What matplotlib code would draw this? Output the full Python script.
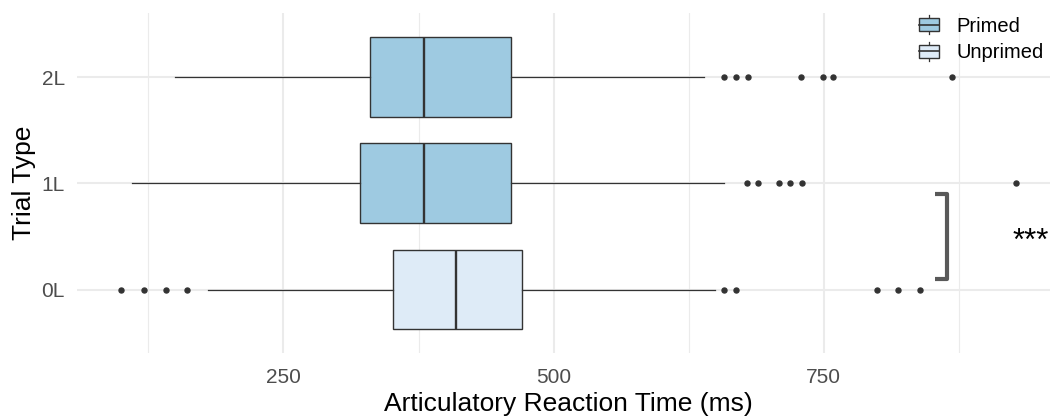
import matplotlib
matplotlib.use("Agg")
import matplotlib.pyplot as plt
from matplotlib.patches import Rectangle
from matplotlib.lines import Line2D
from matplotlib.legend_handler import HandlerBase

plt.rcParams['font.family'] = ['Liberation Sans', 'DejaVu Sans']

# Trial types (bottom to top) and their priming condition
trial_types = ["0L", "1L", "2L"]
conditions = ["Unprimed", "Primed", "Primed"]

# Box summary statistics, articulatory RT in ms
q1 = [351, 321, 330]
medians = [410, 380, 380]
q3 = [471, 461, 461]
whisker_lo = [180, 110, 150]
whisker_hi = [649, 658, 639]
outliers = [
    [100, 121, 141, 161, 658, 669, 799, 819, 839],
    [679, 689, 709, 719, 730, 928],
    [658, 669, 680, 729, 749, 759, 869],
]

# Significance bracket between 1L and 0L
bracket_x = [853, 864]
bracket_y = [1.1, 1.9]
sig_label = "***"
sig_x = 942

palette = {"Primed": "#9ECAE1", "Unprimed": "#DEEBF7"}
edge = "#333333"
grid_col = "#EBEBEB"

fig = plt.figure(figsize=(10.5, 4.19), dpi=100)
ax = fig.add_axes([76.7 / 1050, 1 - 353.3 / 419, 984 / 1050, 340 / 419])

positions = list(range(1, len(trial_types) + 1))
stats = []
for i in range(len(trial_types)):
    stats.append(dict(med=medians[i], q1=q1[i], q3=q3[i],
                      whislo=whisker_lo[i], whishi=whisker_hi[i],
                      fliers=outliers[i]))

bp = ax.bxp(stats, positions=positions, widths=0.75, orientation='horizontal',
            patch_artist=True, showcaps=False,
            boxprops=dict(edgecolor=edge, linewidth=1.0),
            medianprops=dict(color=edge, linewidth=1.7, solid_capstyle='butt'),
            whiskerprops=dict(color=edge, linewidth=0.9),
            flierprops=dict(marker='o', markersize=3.6, markerfacecolor=edge,
                            markeredgecolor=edge, linestyle='none'),
            zorder=3)
for patch, cond in zip(bp['boxes'], conditions):
    patch.set_facecolor(palette[cond])

# Axis limits: data range with 5% padding, discrete axis padded by 0.6
all_vals = whisker_lo + whisker_hi + [v for grp in outliers for v in grp]
lo, hi = min(all_vals), max(all_vals)
pad = 0.05 * (hi - lo)
ax.set_xlim(lo - pad, hi + pad)
ax.set_ylim(0.4, len(trial_types) + 0.6)

ax.set_xticks([250, 500, 750])
ax.set_xticks([125, 375, 625, 875], minor=True)
ax.set_yticks(positions)
ax.set_yticklabels(trial_types)
ax.grid(True, which='major', color=grid_col, linewidth=1.5, zorder=0)
ax.grid(True, which='minor', axis='x', color=grid_col, linewidth=0.8, zorder=0)
ax.set_axisbelow(True)
for s in ax.spines.values():
    s.set_visible(False)
ax.tick_params(which='both', length=0)
ax.tick_params(axis='x', labelsize=15, labelcolor='#4D4D4D', pad=10.5)
ax.tick_params(axis='y', labelsize=15, labelcolor='#4D4D4D', pad=8.5)

ax.set_xlabel("Articulatory Reaction Time (ms)", fontsize=19, color='black', labelpad=3.5)
ax.set_ylabel("Trial Type", fontsize=19, color='black', labelpad=4)

# Significance bracket and stars
ax.plot([bracket_x[0], bracket_x[1], bracket_x[1], bracket_x[0]],
        [bracket_y[1], bracket_y[1], bracket_y[0], bracket_y[0]],
        color='#595959', linewidth=3.0, solid_joinstyle='round',
        solid_capstyle='butt', zorder=4, clip_on=False)
ax.text(sig_x, sum(bracket_y) / 2 - 0.05, sig_label, fontsize=22.5,
        ha='center', va='center', color='black', zorder=4)


class BoxKeyHandler(HandlerBase):
    def create_artists(self, legend, orig_handle, xdescent, ydescent,
                       width, height, fontsize, trans):
        x0, y0 = -xdescent, -ydescent
        bh = 0.68 * height
        by = y0 + (height - bh) / 2
        cx = x0 + width / 2
        cy = y0 + height / 2
        rect = Rectangle((x0, by), width, bh, facecolor=orig_handle.get_facecolor(),
                         edgecolor=edge, linewidth=1.0, transform=trans)
        med = Line2D([x0, x0 + width], [cy, cy], color=edge, linewidth=1.2, transform=trans)
        w1 = Line2D([cx, cx], [y0, by], color=edge, linewidth=0.9, transform=trans)
        w2 = Line2D([cx, cx], [by + bh, y0 + height], color=edge, linewidth=0.9, transform=trans)
        return [w1, w2, rect, med]


legend_labels = ["Primed", "Unprimed"]
handles = [Rectangle((0, 0), 1, 1, facecolor=palette[l]) for l in legend_labels]
fig.legend(handles, legend_labels, handler_map={Rectangle: BoxKeyHandler()},
           loc='upper left', bbox_to_anchor=(919 / 1050, 1 - 15 / 419),
           frameon=False, fontsize=14.5, handlelength=1.0, handleheight=1.1,
           handletextpad=0.85, labelspacing=0.3, borderpad=0, borderaxespad=0)

fig.savefig("out.png", dpi=100)
